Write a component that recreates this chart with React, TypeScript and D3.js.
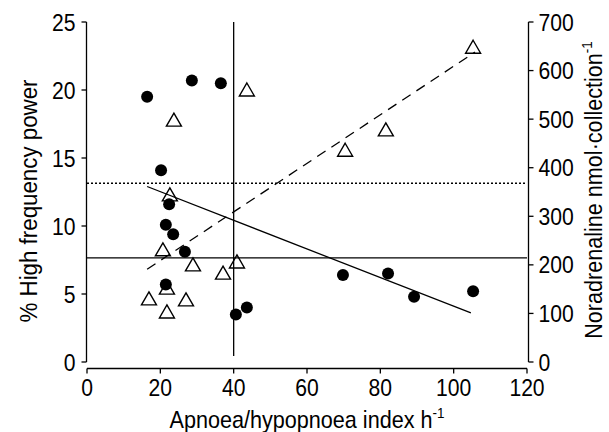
import React from "react";
import * as d3 from "d3";

// chart size
const width = 609;
const height = 432;

// filled circles: % high frequency power (left axis)
const hfAhi = [16.4, 28.6, 36.5, 20.2, 22.4, 21.5, 23.5, 26.7, 21.5, 40.6, 43.6, 69.8, 82.1, 89.2, 105.3];
const hfPower = [19.5, 20.7, 20.5, 14.1, 11.6, 10.1, 9.4, 8.1, 5.7, 3.5, 4.0, 6.4, 6.5, 4.8, 5.2];

// open triangles: noradrenaline (right axis)
const naAhi = [105.3, 81.5, 70.4, 43.6, 23.7, 22.6, 20.7, 28.9, 40.9, 37.1, 21.8, 16.9, 27.0, 21.8];
const naValue = [648, 478, 436, 560, 498, 344, 231, 200, 206, 183, 152, 130, 128, 103];

// regression lines
const hfFit = { slope: -0.1053, intercept: 14.63, from: 16.4, to: 104.7 };
const naFit = { slope: 5.0, intercept: 109, from: 16.4, to: 105.8 };

// reference lines
const hfRef = 7.65; // solid horizontal (left axis units)
const hfRef2 = 13.15; // dotted horizontal (left axis units)
const ahiCut = 40; // vertical line
const ahiCutBottom = 0.45;

// ticks
const xTicks = [0, 20, 40, 60, 80, 100, 120];
const yLeftTicks = [0, 5, 10, 15, 20, 25];
const yRightTicks = [0, 100, 200, 300, 400, 500, 600, 700];

const font = "'Liberation Sans', Arial, sans-serif";

export default function App() {
    // scales
    const x = d3.scaleLinear().domain([0, 120]).range([87, 527]);
    const yL = d3.scaleLinear().domain([0, 25]).range([362, 22]);
    const yR = d3.scaleLinear().domain([0, 700]).range([362, 22]);

    const line = d3.line<[number, number]>();
    const fitPath = (f: typeof hfFit, y: d3.ScaleLinear<number, number>) =>
        line([
            [x(f.from), y(f.intercept + f.slope * f.from)],
            [x(f.to), y(f.intercept + f.slope * f.to)],
        ]);

    const tri = "M0,-7L7.5,6L-7.5,6Z";
    const stroke = 1.3;

    return (
        <svg width={width} height={height} style={{ position: "absolute", left: 0, top: 0, background: "#fff" }}
            fontFamily={font}>
            {/* reference lines */}
            <line x1={x(0)} x2={x(120)} y1={yL(hfRef)} y2={yL(hfRef)} stroke="#000" strokeWidth={stroke} />
            <line x1={x(0)} x2={x(120)} y1={yL(hfRef2)} y2={yL(hfRef2)} stroke="#000" strokeWidth={1.5} strokeDasharray="2,2" />
            <line x1={x(ahiCut)} x2={x(ahiCut)} y1={yL(25)} y2={yL(ahiCutBottom)} stroke="#000" strokeWidth={stroke} />

            {/* regression lines */}
            <path d={fitPath(hfFit, yL) || ""} stroke="#000" strokeWidth={stroke} fill="none" />
            <path d={fitPath(naFit, yR) || ""} stroke="#000" strokeWidth={stroke} fill="none" strokeDasharray="10,7" />

            {/* triangles */}
            {naAhi.map((a, i) => (
                <path key={"t" + i} d={tri} transform={`translate(${x(a)},${yR(naValue[i])})`}
                    fill="none" stroke="#000" strokeWidth={1.4} />
            ))}

            {/* circles */}
            {hfAhi.map((a, i) => (
                <circle key={"c" + i} cx={x(a)} cy={yL(hfPower[i])} r={6} fill="#000" />
            ))}

            {/* left axis */}
            <g transform="translate(86.5,0)">
                <line y1={yL(0)} y2={yL(25)} stroke="#000" strokeWidth={stroke} />
                {yLeftTicks.map(t => (
                    <g key={t} transform={`translate(0,${yL(t)})`}>
                        <line x2={-5} stroke="#000" strokeWidth={stroke} />
                        <text transform="translate(-11,0) scale(0.88,1)" dy="0.36em" textAnchor="end" fontSize={24}>{t}</text>
                    </g>
                ))}
            </g>

            {/* right axis */}
            <g transform="translate(528.5,0)">
                <line y1={yR(0)} y2={yR(700)} stroke="#000" strokeWidth={stroke} />
                {yRightTicks.map(t => (
                    <g key={t} transform={`translate(0,${yR(t)})`}>
                        <line x2={5} stroke="#000" strokeWidth={stroke} />
                        <text transform="translate(10,0) scale(0.88,1)" dy="0.36em" textAnchor="start" fontSize={24}>{t}</text>
                    </g>
                ))}
            </g>

            {/* bottom axis */}
            <g transform="translate(0,368.5)">
                <line x1={x(0)} x2={x(120)} stroke="#000" strokeWidth={stroke} />
                {xTicks.map(t => (
                    <g key={t} transform={`translate(${x(t)},0)`}>
                        <line y2={5} stroke="#000" strokeWidth={stroke} />
                        <text transform="translate(0,27) scale(0.88,1)" textAnchor="middle" fontSize={24}>{t}</text>
                    </g>
                ))}
            </g>

            {/* axis titles */}
            <text transform="translate(37,201) rotate(-90) scale(0.93,1)" textAnchor="middle" fontSize={24}>
                % High frequency power
            </text>
            <text transform="translate(307,428) scale(0.9,1)" textAnchor="middle" fontSize={24}>
                Apnoea/hypopnoea index h<tspan dy={-10} fontSize={15}>-1</tspan>
            </text>
            <text transform="translate(602,190) rotate(-90) scale(0.9,1)" textAnchor="middle" fontSize={24}>
                Noradrenaline nmol·collection<tspan dy={-10} fontSize={15}>-1</tspan>
            </text>
        </svg>
    );
}
